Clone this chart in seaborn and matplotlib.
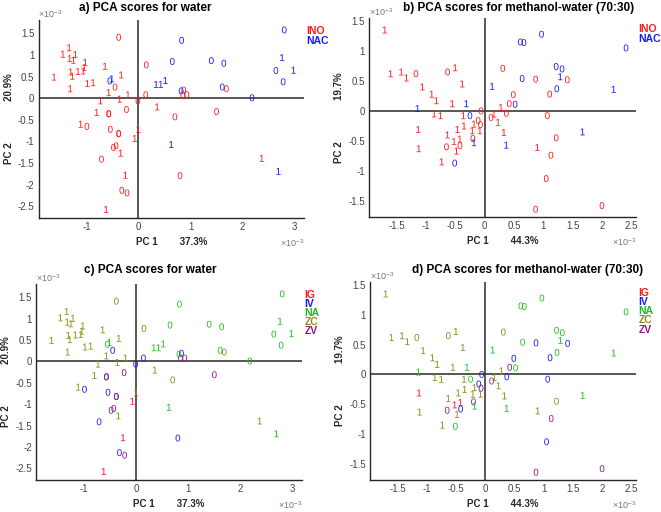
import seaborn as sns
import matplotlib.pyplot as plt
import pandas as pd
import numpy as np

# -----------------------------
# data (PC scores, units of 1e-3)
# -----------------------------
water_x = [-0.38, -1.33, -1.45, -1.32, -1.25, -1.21, -1.02, -1.62, -1.30, -1.27,
           -1.16, -1.06, -1.04, -0.64, -0.33, -1.31, -0.98, -0.87, -0.45, -0.57,
           -0.20, -0.73, -0.36, -0.01, 0.15, 0.14, -0.23, -0.80, -0.57, -0.57,
           0.36, 0.70, 0.87, 0.85, 0.93, 1.69, 1.50, -1.11, -0.99, -0.54,
           0.00, -0.38, -0.38, -0.07, -0.48, -0.43, -0.34, -0.71, 2.37, -0.25,
           0.80, -0.32, -0.22, -0.62,
           2.80, 0.83, 0.65, 1.40, 1.64, 2.76, 2.64, 2.98, 2.78, -0.55,
           -0.51, 0.34, 0.43, 0.52, 0.82, 1.61, 2.18, 0.63, 2.69]
water_y = [1.41, 1.17, 1.02, 0.92, 0.88, 1.01, 0.83, 0.49, 0.61, 0.51,
           0.62, 0.63, 0.71, 0.74, 0.54, 0.22, 0.34, 0.36, 0.26, 0.13,
           0.08, -0.06, -0.02, -0.06, 0.77, 0.08, -0.26, -0.33, -0.36, -0.36,
           -0.20, -0.43, 0.19, 0.08, 0.08, 0.22, -0.31, -0.60, -0.65, -0.72,
           -0.72, -0.82, -0.82, -0.93, -1.14, -1.10, -1.27, -1.41, -1.39, -1.78,
           -1.79, -2.13, -2.19, -2.57,
           1.58, 1.34, 0.85, 0.87, 0.81, 0.94, 0.64, 0.65, 0.38, 0.40,
           0.45, 0.32, 0.32, 0.41, 0.17, 0.26, 0.01, -1.07, -1.69]
water_digit = ["0", "1", "1", "1", "1", "1", "1", "1", "1", "1",
               "1", "1", "1", "1", "1", "1", "1", "1", "0", "1",
               "1", "1", "1", "0", "0", "0", "0", "1", "0", "0",
               "1", "0", "0", "0", "0", "0", "0", "1", "0", "0",
               "1", "0", "0", "1", "0", "0", "1", "0", "1", "1",
               "0", "0", "0", "1",
               "0", "0", "0", "0", "0", "1", "0", "1", "0", "0",
               "1", "1", "1", "1", "0", "0", "0", "1", "1"]
water_group = ["ZC", "ZC", "ZC", "ZC", "ZC", "ZC", "ZC", "ZC", "ZC", "ZC",
               "ZC", "ZC", "ZC", "ZC", "ZC", "ZC", "ZC", "ZC", "IV", "ZC",
               "ZC", "ZC", "ZC", "IV", "ZC", "IV", "ZV", "ZC", "IV", "ZV",
               "ZC", "ZC", "IV", "ZV", "ZV", "ZC", "ZV", "ZC", "IV", "IV",
               "ZC", "IV", "ZV", "IG", "ZV", "ZV", "ZC", "IV", "ZC", "IG",
               "IV", "IV", "ZV", "IG",
               "NA", "NA", "NA", "NA", "NA", "NA", "NA", "NA", "NA", "NA",
               "NA", "NA", "NA", "NA", "NA", "NA", "NA", "NA", "NA"]

meoh_x = [-1.70, -1.60, -1.42, -1.33, -1.17, -0.63, -0.50, -0.38, -1.06, -0.90,
          -0.82, -0.55, -0.86, -0.75, -0.36, -0.06, -0.46, -0.35, -1.13, -0.63,
          -0.52, -0.42, -0.42, -0.65, -0.48, -1.12, -0.73, -0.11, -0.18, -0.07,
          -0.08, -0.21, -0.20, 0.11, 0.16, 0.28, 0.37, 0.23, 0.33, 0.31,
          0.49, 0.42, 0.87, 1.41, 1.11, 1.07, 1.22, 0.90, 1.13, 1.05,
          0.87, 2.00,
          0.97, 0.61, 0.67, 2.41, 1.22, 1.32, 1.29, 0.64, 1.23, 2.20,
          0.13, 0.52, -0.31, -1.14, -0.25, 1.67, 0.37, -0.18, -0.51]
meoh_y = [1.35, 0.62, 0.65, 0.55, 0.62, 0.65, 0.72, 0.45, 0.40, 0.28,
          0.17, 0.12, -0.05, -0.08, -0.08, 0.00, -0.31, -0.25, -0.31, -0.40,
          -0.51, -0.47, -0.58, -0.60, -0.67, -0.63, -0.85, -0.16, -0.22, -0.23,
          -0.33, -0.33, -0.46, -0.11, -0.05, 0.06, -0.04, -0.19, -0.36, 0.71,
          0.27, 0.12, 0.53, 0.52, 0.28, -0.08, -0.45, -0.61, -0.74, -1.13,
          -1.64, -1.58,
          1.28, 1.15, 1.14, 1.05, 0.74, 0.70, 0.57, 0.54, 0.37, 0.36,
          0.41, 0.11, 0.12, 0.04, -0.08, -0.35, -0.57, -0.53, -0.87]
meoh_digit = ["1", "1", "1", "1", "0", "0", "1", "1", "1", "1",
              "1", "1", "1", "1", "1", "0", "1", "1", "1", "1",
              "1", "1", "0", "0", "1", "1", "1", "0", "1", "0",
              "1", "1", "0", "0", "1", "1", "0", "1", "1", "0",
              "0", "0", "0", "0", "0", "0", "0", "1", "0", "0",
              "0", "0",
              "0", "0", "0", "0", "0", "0", "1", "0", "0", "1",
              "1", "0", "1", "1", "0", "1", "1", "1", "0"]
meoh_group = ["ZC", "ZC", "ZC", "ZC", "ZC", "ZC", "ZC", "ZC", "ZC", "ZC",
              "ZC", "ZC", "ZC", "ZC", "ZC", "IV", "ZC", "ZC", "IG", "ZC",
              "IG", "IG", "IV", "ZV", "ZC", "ZC", "ZC", "IV", "ZC", "ZV",
              "ZC", "ZC", "ZV", "ZV", "ZC", "ZC", "IV", "ZC", "ZC", "ZC",
              "IV", "ZV", "IV", "IV", "IV", "IV", "ZC", "ZC", "ZV", "IV",
              "ZV", "ZV",
              "NA", "NA", "NA", "NA", "NA", "NA", "NA", "NA", "NA", "NA",
              "NA", "NA", "NA", "NA", "NA", "NA", "NA", "NA", "NA"]

water_var = ["37.3%", "20.9%"]
meoh_var = ["44.3%", "19.7%"]

groups = ["IG", "IV", "NA", "ZC", "ZV"]
group_colors = ["#ff1a1a", "#1a1aff", "#1fbf1f", "#8c8c14", "#8c1a8c"]
types = ["INO", "NAC"]
type_colors = ["#ff1a1a", "#1a1aff"]


def make_df(x, y, digit, group):
    df = pd.DataFrame({"PC1": x, "PC2": y, "digit": digit, "group": group})
    df["type"] = np.where(df["group"] == "NA", "NAC", "INO")
    return df


df_water = make_df(water_x, water_y, water_digit, water_group)
df_meoh = make_df(meoh_x, meoh_y, meoh_digit, meoh_group)

# -----------------------------
# style
# -----------------------------
sns.set_style("white")
plt.rcParams["font.family"] = ["Liberation Sans", "DejaVu Sans"]
plt.rcParams["mathtext.fontset"] = "custom"
plt.rcParams["mathtext.rm"] = "Liberation Sans"
plt.rcParams["mathtext.it"] = "Liberation Sans"
plt.rcParams["axes.unicode_minus"] = False

fig = plt.figure(figsize=(6.61, 5.12), dpi=100)
W, H = 661, 512


def px_axes(left, top, right, bottom):
    return fig.add_axes([left / W, 1 - bottom / H, (right - left) / W, (bottom - top) / H])


panels = [
    dict(box=(38.5, 20, 304, 218), df=df_water, hue="type", order=types, colors=type_colors,
         title="a) PCA scores for water", tx=145, ty=8, var=water_var,
         xlim=(-1.92, 3.18), ylim=(-2.77, 1.81),
         xt=[-1, 0, 1, 2, 3], yt=[-2.5, -2, -1.5, -1, -0.5, 0, 0.5, 1, 1.5]),
    dict(box=(369, 18, 636, 217), df=df_meoh, hue="type", order=types, colors=type_colors,
         title="b) PCA scores for methanol-water (70:30)", tx=519, ty=8, var=meoh_var,
         xlim=(-1.97, 2.58), ylim=(-1.77, 1.55),
         xt=[-1.5, -1, -0.5, 0, 0.5, 1, 1.5, 2, 2.5], yt=[-1.5, -1, -0.5, 0, 0.5, 1, 1.5]),
    dict(box=(36, 284, 302, 480), df=df_water, hue="group", order=groups, colors=group_colors,
         title="c) PCA scores for water", tx=150, ty=270, var=water_var,
         xlim=(-1.92, 3.18), ylim=(-2.77, 1.81),
         xt=[-1, 0, 1, 2, 3], yt=[-2.5, -2, -1.5, -1, -0.5, 0, 0.5, 1, 1.5]),
    dict(box=(370, 282, 636, 480), df=df_meoh, hue="group", order=groups, colors=group_colors,
         title="d) PCA scores for methanol-water (70:30)", tx=528, ty=270, var=meoh_var,
         xlim=(-1.97, 2.58), ylim=(-1.77, 1.55),
         xt=[-1.5, -1, -0.5, 0, 0.5, 1, 1.5, 2, 2.5], yt=[-1.5, -1, -0.5, 0, 0.5, 1, 1.5]),
]


def fmt(v):
    return ("%g" % v)


for p in panels:
    ax = px_axes(*p["box"])
    ax.axhline(0, color="#3a3a3a", lw=1.2, zorder=1)
    ax.axvline(0, color="#3a3a3a", lw=1.2, zorder=1)
    sns.scatterplot(data=p["df"], x="PC1", y="PC2", hue=p["hue"], hue_order=p["order"],
                    palette=p["colors"], style="digit",
                    markers={"0": "$0$", "1": "$1$"}, s=25, linewidth=0,
                    edgecolor="none", legend=False, ax=ax, zorder=3)
    ax.set_xlim(*p["xlim"])
    ax.set_ylim(*p["ylim"])
    ax.set_xticks(p["xt"])
    ax.set_yticks(p["yt"])
    ax.set_xticklabels([fmt(v) for v in p["xt"]])
    ax.set_yticklabels([fmt(v) for v in p["yt"]])
    ax.tick_params(direction="in", length=3, width=0.8, labelsize=7, colors="#262626",
                   labelcolor="#444444", pad=3, top=False, right=False)
    for side in ["top", "right"]:
        ax.spines[side].set_visible(False)
    for side in ["left", "bottom"]:
        ax.spines[side].set_color("#262626")
        ax.spines[side].set_linewidth(1.0)
    ax.set_xlabel("")
    ax.set_ylabel("")

    # axis labels
    ax.text(0.5, -0.122, "PC 1        " + p["var"][0], transform=ax.transAxes,
            ha="center", va="center", fontsize=7, fontweight="bold", color="#262626")
    ax.text(-0.112, 0.5, "PC 2               " + p["var"][1], transform=ax.transAxes,
            ha="center", va="center", rotation=90, fontsize=7, fontweight="bold",
            color="#262626")

    # exponent labels
    ax.text(0.0, 1.03, r"$\times10^{-3}$", transform=ax.transAxes, ha="left",
            va="center", fontsize=6.5, color="#777777")
    ax.text(1.0, -0.128, r"$\times10^{-3}$", transform=ax.transAxes, ha="right",
            va="center", fontsize=6.5, color="#777777")

    # legend as coloured text
    for i, (name, col) in enumerate(zip(p["order"], p["colors"])):
        step = 0.05 if len(p["order"]) == 2 else 0.046
        ax.text(1.01, 0.944 - i * step, name, transform=ax.transAxes, ha="left",
                va="center", fontsize=7.5, fontweight="bold", color=col)

    fig.text(p["tx"] / W, 1 - p["ty"] / H, p["title"], ha="center", va="center",
             fontsize=8.5, fontweight="bold", color="black")

plt.savefig("out.png", dpi=100)
plt.close()
